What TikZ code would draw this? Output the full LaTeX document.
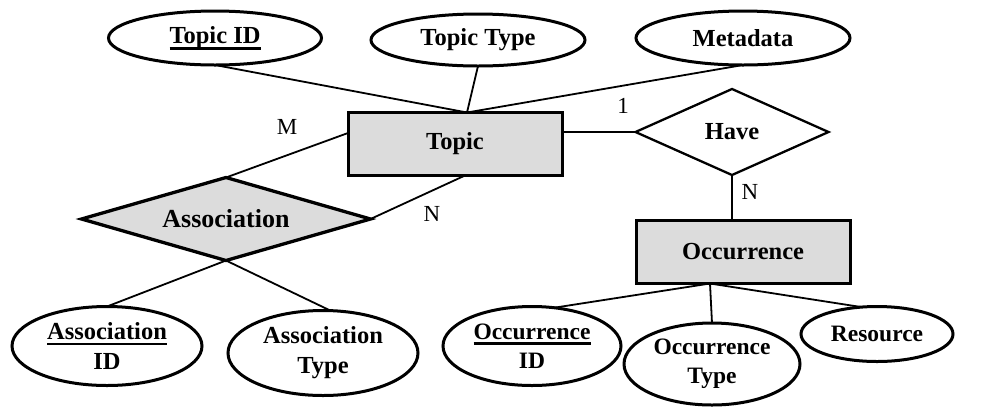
\documentclass[tikz,border=0pt]{standalone}
\usepackage{fontspec}
\setmainfont{Liberation Serif}
\usetikzlibrary{shapes.geometric,calc}
\definecolor{boxgray}{RGB}{220,220,220}
\newcommand\ulthick[1]{\setbox0\hbox{#1}\rlap{\rule[-6pt]{\wd0}{2.8pt}}\box0}
\tikzset{
  attr/.style={ellipse, draw, line width=3pt, fill=white, inner sep=0pt, outer sep=0pt,
    font=\bfseries\fontsize{24.5}{30}\selectfont, align=center},
  smallattr/.style={attr, font=\bfseries\fontsize{23.5}{29}\selectfont},
  ent/.style={rectangle, draw, line width=3pt, fill=boxgray, inner sep=0pt, outer sep=0pt,
    minimum width=214pt, minimum height=63pt, font=\bfseries\fontsize{24.5}{28}\selectfont},
  rel/.style={diamond, draw, inner sep=0pt, outer sep=0pt, shape aspect=2.5,
    font=\bfseries\fontsize{24.5}{28}\selectfont},
  conn/.style={line width=1.8pt},
  card/.style={font=\fontsize{23}{28}\selectfont, inner sep=0pt}
}
\begin{document}
\begin{tikzpicture}[x=1pt,y=-1pt]
\useasboundingbox (0,0) rectangle (990,408);
% entities
\node[ent] (topic) at (455,144) {Topic};
\node[ent] (occ) at (743,252) {Occurrence};
% relationships
\node[rel, fill=boxgray, line width=3.3pt, minimum width=289pt, minimum height=83pt,
  font=\bfseries\fontsize{26}{28}\selectfont] (assoc) at (226,219) {Association};
\node[rel, fill=white, line width=2.3pt, minimum width=193pt, minimum height=86pt] (have) at (732,132) {Have};
% attributes
\node[attr, minimum width=213pt, minimum height=54pt] (tid) at (215,38) {\ulthick{Topic ID}};
\node[attr, minimum width=214pt, minimum height=52pt] (ttype) at (478,40) {Topic Type};
\node[attr, minimum width=214pt, minimum height=54pt] (meta) at (743,38) {Metadata};
\node[attr, minimum width=190pt, minimum height=79pt] (aid) at (107,346) {\ulthick{Association}\\ID};
\node[attr, minimum width=190pt, minimum height=85pt] (atype) at (323,353) {Association\\Type};
\node[smallattr, minimum width=178pt, minimum height=79pt] (ocid) at (532,346) {\ulthick{Occurrence}\\ID};
\node[smallattr, minimum width=176pt, minimum height=82pt] (otype) at (712,364) {Occurrence\\Type};
\node[smallattr, minimum width=152pt, minimum height=55pt] (res) at (877,334) {Resource};
% connection points
\coordinate (tp) at ($(topic.north)+(12,0)$);
\coordinate (tl) at ($(topic.west)+(0,-11)$);
\coordinate (tb) at ($(topic.south)+(10,0)$);
\coordinate (ob) at ($(occ.south)+(-33,0)$);
% connectors
\draw[conn] (tid.south) -- (tp);
\draw[conn] (ttype.south) -- (tp);
\draw[conn] (meta.south) -- (tp);
\draw[conn] (tl) -- (assoc.north);
\draw[conn] (tb) -- (assoc.east);
\draw[conn] (topic.east |- have.west) -- (have.west);
\draw[conn] (have.south) -- (have.south |- occ.north);
\draw[conn] (assoc.south) -- (aid.north);
\draw[conn] (assoc.south) -- (atype.80);
\draw[conn] (ob) -- (ocid.60);
\draw[conn] (ob) -- (otype.north);
\draw[conn] (ob) -- (res.120);
% cardinalities
\node[card] (cm) at (287,127) {M};
\node[card] (cn1) at (432,214) {N};
\node[card] (c1) at (623,106) {1};
\node[card] (cn2) at (750,192) {N};
\end{tikzpicture}
\end{document}
